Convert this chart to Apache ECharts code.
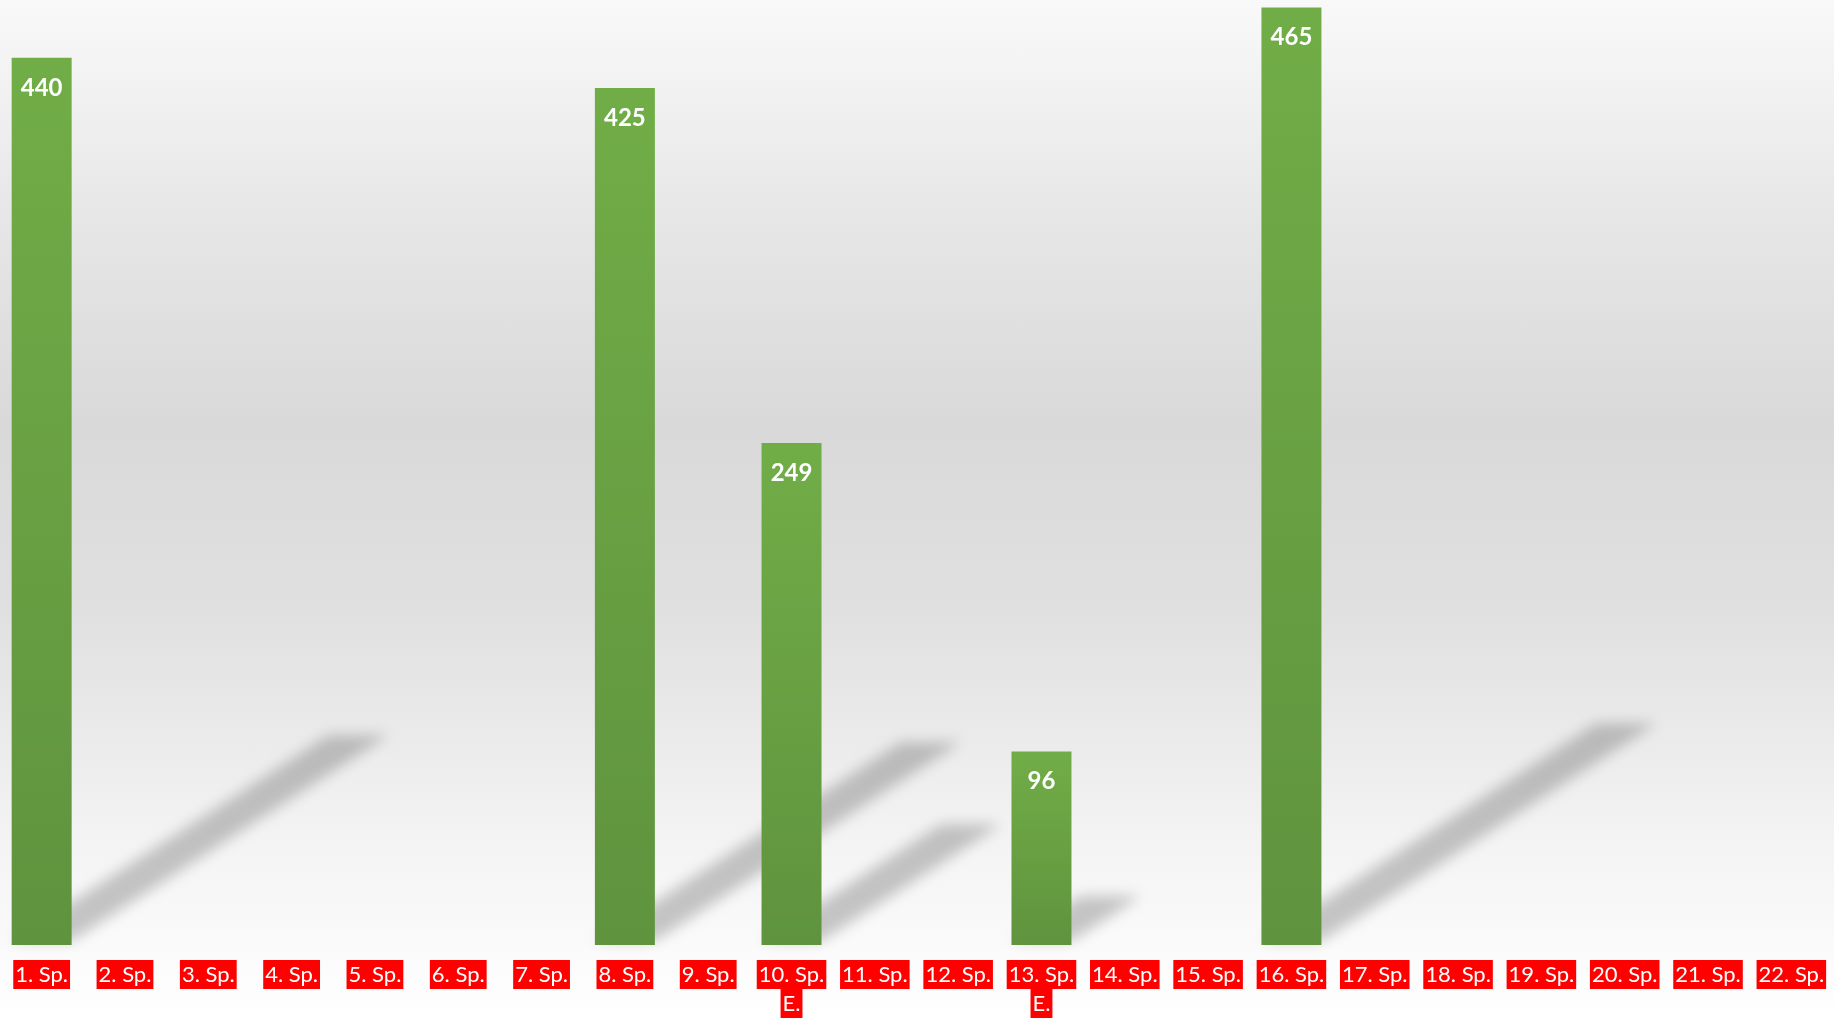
<!DOCTYPE html>
<html>
<head>
<meta charset="utf-8">
<script src="https://cdn.jsdelivr.net/npm/echarts@6/dist/echarts.min.js"></script>
<style>
html,body{margin:0;padding:0;width:100%;height:100%;overflow:hidden;}
#chart{width:1834px;height:1019px;background:linear-gradient(to bottom,#f9f9f9 0%,#e6e6e6 22%,#d9d9d9 42%,#e0e0e0 60%,#f3f3f3 82%,#ffffff 100%);}
</style>
</head>
<body>
<div id="chart"></div>
<script>
const categories = ["1. Sp.","2. Sp.","3. Sp.","4. Sp.","5. Sp.","6. Sp.","7. Sp.","8. Sp.","9. Sp.","10. Sp. E.","11. Sp.","12. Sp.","13. Sp. E.","14. Sp.","15. Sp.","16. Sp.","17. Sp.","18. Sp.","19. Sp.","20. Sp.","21. Sp.","22. Sp."];
const values = [440,null,null,null,null,null,null,425,null,249,null,null,96,null,null,465,null,null,null,null,null,null];

const shadowData = values.map((v,i)=>v==null?null:[i,v]).filter(d=>d);
const chart = echarts.init(document.getElementById('chart'), null, {renderer:'canvas'});
const OFF = 5000;
chart.setOption({
  backgroundColor:'transparent',
  animation:false,
  grid:{left:-1,right:1,top:0,bottom:74,containLabel:false},
  xAxis:{
    type:'category',
    data:categories,
    axisLine:{show:false},
    axisTick:{show:false},
    axisLabel:{
      interval:0,
      margin:15,
      formatter:function(v){
        const m = v.match(/^(\d+\. Sp\.)\s*(.*)$/);
        if(m && m[2]) return '{a|'+m[1]+'}\n{a|'+m[2]+'}';
        return '{a|'+v+'}';
      },
      rich:{a:{color:'#ffffff',backgroundColor:'#ff0000',fontFamily:'Lato',fontSize:22,lineHeight:29,height:29,padding:[0,2]}}
    }
  },
  yAxis:{type:'value',min:0,max:468.7,show:false,splitLine:{show:false}},
  series:[
    {
      type:'custom',
      clip:false,
      silent:true,
      z:1,
      data:shadowData,
      renderItem:function(params, api){
        const idx = api.value(0), v = api.value(1);
        const base = api.coord([idx,0]);
        const top = api.coord([idx,v]);
        const h = base[1]-top[1];
        const bw = api.size([1,0])[0]*0.72;
        const xL = base[0]-bw/2, xR = base[0]+bw/2;
        const dx = 0.357*h, dy = 0.232*h;
        const y0 = base[1]-4;
        return {
          type:'polygon',
          shape:{points:[[xL-OFF,y0],[xR-OFF,y0],[xR+dx-OFF,y0-dy],[xL+dx-OFF,y0-dy]]},
          style:{fill:'#000',shadowBlur:14,shadowColor:'rgba(0,0,0,0.21)',shadowOffsetX:OFF,shadowOffsetY:0}
        };
      }
    },
    {
      type:'bar',
      z:2,
      data:values,
      barWidth:'72%',
      itemStyle:{
        color:new echarts.graphic.LinearGradient(0,0,0,1,[{offset:0,color:'#71ad47'},{offset:1,color:'#5f933e'}])
      },
      label:{
        show:true,
        position:'insideTop',
        distance:18,
        color:'#ffffff',
        fontFamily:'Lato',
        fontWeight:'bold',
        fontSize:24
      }
    }
  ]
});
</script>
</body>
</html>
